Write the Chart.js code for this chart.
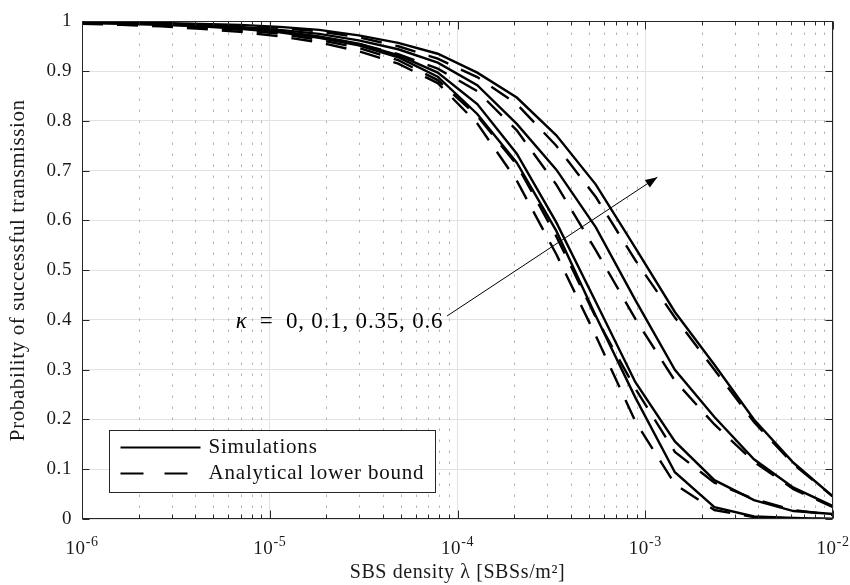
<!DOCTYPE html>
<html>
<head>
<meta charset="utf-8">
<script src="https://cdn.jsdelivr.net/npm/chart.js@4.4.1/dist/chart.umd.min.js"></script>
<style>
  html, body { margin: 0; padding: 0; background: #fff; }
</style>
</head>
<body>
<canvas id="myChart" width="850" height="585"></canvas>
<script>
// SBS density (x, log scale) and success probabilities
const density = [1e-6, 1.624e-6, 2.637e-6, 4.281e-6, 6.952e-6, 1.129e-5, 1.833e-5, 2.976e-5, 4.833e-5, 7.848e-5,
                 1.274e-4, 2.069e-4, 3.360e-4, 5.456e-4, 8.859e-4, 1.438e-3, 2.336e-3, 3.793e-3, 6.158e-3, 1e-2];

const simKappa0   = [0.997, 0.995, 0.993, 0.990, 0.985, 0.978, 0.967, 0.952, 0.928, 0.889, 0.814, 0.716, 0.579, 0.408, 0.244, 0.094, 0.024, 0.005, 0.002, 0.000];
const simKappa01  = [0.997, 0.996, 0.994, 0.991, 0.987, 0.980, 0.970, 0.955, 0.932, 0.897, 0.834, 0.734, 0.596, 0.436, 0.275, 0.156, 0.078, 0.038, 0.016, 0.010];
const simKappa035 = [0.998, 0.997, 0.995, 0.993, 0.989, 0.983, 0.975, 0.962, 0.944, 0.917, 0.872, 0.794, 0.702, 0.586, 0.440, 0.300, 0.205, 0.120, 0.063, 0.026];
const simKappa06  = [0.999, 0.998, 0.997, 0.995, 0.993, 0.989, 0.983, 0.972, 0.957, 0.935, 0.897, 0.847, 0.771, 0.672, 0.545, 0.416, 0.310, 0.200, 0.113, 0.045];

const lbKappa0    = [0.995, 0.993, 0.990, 0.985, 0.979, 0.970, 0.958, 0.940, 0.915, 0.876, 0.795, 0.680, 0.532, 0.368, 0.196, 0.070, 0.018, 0.004, 0.001, 0.000];
const lbKappa01   = [0.996, 0.994, 0.992, 0.988, 0.983, 0.975, 0.963, 0.947, 0.922, 0.882, 0.810, 0.712, 0.568, 0.405, 0.262, 0.135, 0.073, 0.040, 0.018, 0.008];
const lbKappa035  = [0.998, 0.996, 0.994, 0.991, 0.986, 0.979, 0.969, 0.955, 0.934, 0.905, 0.860, 0.781, 0.672, 0.540, 0.402, 0.278, 0.190, 0.115, 0.060, 0.024];
const lbKappa06   = [0.999, 0.998, 0.996, 0.994, 0.991, 0.987, 0.980, 0.968, 0.950, 0.925, 0.888, 0.834, 0.750, 0.647, 0.520, 0.405, 0.300, 0.195, 0.110, 0.045];

// tick labels
const xDecades = [1e-6, 1e-5, 1e-4, 1e-3, 1e-2];
const xExponents = ['-6', '-5', '-4', '-3', '-2'];
const yTicks = [0, 0.1, 0.2, 0.3, 0.4, 0.5, 0.6, 0.7, 0.8, 0.9, 1];

const legendLabels = ['Simulations', 'Analytical lower bound'];
const kappaLabel = ['\u03BA', '\u2002=\u20020, 0.1, 0.35, 0.6'];

const FONT = '"Liberation Serif", "DejaVu Serif", serif';
const DASH = [21, 14];

function isDecade(v) {
  const l = Math.log10(v);
  return Math.abs(l - Math.round(l)) < 1e-6;
}

function pts(ys) {
  return density.map((d, i) => ({ x: d, y: ys[i] }));
}

function curve(ys, dashed) {
  return {
    data: pts(ys),
    borderColor: '#000',
    borderWidth: 2.4,
    borderDash: dashed ? DASH : [],
    pointRadius: 0,
    fill: false,
    tension: 0
  };
}

// minor positions 2..9 x 10^n for dotted grid and small ticks
const minorX = [];
xDecades.slice(0, -1).forEach(d => {
  for (let m = 2; m <= 9; m++) minorX.push(m * d);
});

const paperPlugin = {
  id: 'paperPlugin',
  beforeDraw(chart) {
    // computer-modern is a bit wider than Times
    chart.ctx.letterSpacing = '0.6px';
  },
  beforeDatasetsDraw(chart) {
    const { ctx, chartArea: a, scales: { x } } = chart;
    ctx.save();
    ctx.strokeStyle = '#b4b4b4';
    ctx.lineWidth = 1;
    ctx.setLineDash([2.5, 8.5]);
    minorX.forEach(v => {
      const px = Math.round(x.getPixelForValue(v)) + 0.5;
      ctx.beginPath();
      ctx.moveTo(px, a.bottom);
      ctx.lineTo(px, a.top);
      ctx.stroke();
    });
    ctx.restore();
  },
  afterDatasetsDraw(chart) {
    const { ctx, chartArea: a, scales: { x, y } } = chart;
    ctx.save();
    // box
    ctx.strokeStyle = '#262626';
    ctx.lineWidth = 1;
    ctx.setLineDash([]);
    const L = Math.round(a.left) + 0.5, R = Math.round(a.right) - 0.5;
    const T = Math.round(a.top) + 0.5, B = Math.round(a.bottom) - 0.5;
    ctx.strokeRect(L, T, R - L, B - T);

    // inward ticks
    ctx.beginPath();
    xDecades.forEach(v => {
      const px = Math.round(x.getPixelForValue(v)) + 0.5;
      ctx.moveTo(px, B); ctx.lineTo(px, B - 8);
      ctx.moveTo(px, T); ctx.lineTo(px, T + 8);
    });
    minorX.forEach(v => {
      const px = Math.round(x.getPixelForValue(v)) + 0.5;
      ctx.moveTo(px, B); ctx.lineTo(px, B - 4);
      ctx.moveTo(px, T); ctx.lineTo(px, T + 4);
    });
    yTicks.forEach(v => {
      const py = Math.round(y.getPixelForValue(v)) + 0.5;
      ctx.moveTo(L, py); ctx.lineTo(L + 7, py);
      ctx.moveTo(R, py); ctx.lineTo(R - 7, py);
    });
    ctx.stroke();

    // x tick labels 10^n
    ctx.fillStyle = '#1a1a1a';
    ctx.textBaseline = 'alphabetic';
    xDecades.forEach((v, i) => {
      const px = x.getPixelForValue(v);
      ctx.font = '19px ' + FONT;
      const wBase = ctx.measureText('10').width;
      ctx.font = '14px ' + FONT;
      const wExp = ctx.measureText(xExponents[i]).width;
      const start = px - (wBase + wExp) / 2;
      ctx.font = '19px ' + FONT;
      ctx.textAlign = 'left';
      ctx.fillText('10', start, B + 35);
      ctx.font = '14px ' + FONT;
      ctx.fillText(xExponents[i], start + wBase, B + 27);
    });
    ctx.restore();
  },
  afterDraw(chart) {
    const { ctx, chartArea: a, scales: { x, y } } = chart;
    ctx.save();
    ctx.setLineDash([]);

    // annotation arrow
    const x0 = x.getPixelForValue(8.8e-5), y0 = y.getPixelForValue(0.408);
    const x1 = x.getPixelForValue(1.16e-3), y1 = y.getPixelForValue(0.687);
    ctx.strokeStyle = '#000';
    ctx.fillStyle = '#000';
    ctx.lineWidth = 1;
    ctx.beginPath();
    ctx.moveTo(x0, y0);
    ctx.lineTo(x1, y1);
    ctx.stroke();
    const ang = Math.atan2(y1 - y0, x1 - x0);
    const hl = 12, hw = 4.5;
    ctx.beginPath();
    ctx.moveTo(x1, y1);
    ctx.lineTo(x1 - hl * Math.cos(ang) + hw * Math.sin(ang), y1 - hl * Math.sin(ang) - hw * Math.cos(ang));
    ctx.lineTo(x1 - hl * Math.cos(ang) - hw * Math.sin(ang), y1 - hl * Math.sin(ang) + hw * Math.cos(ang));
    ctx.closePath();
    ctx.fill();

    // kappa label, right-aligned at the arrow tail
    ctx.letterSpacing = '0.8px';
    ctx.textBaseline = 'middle';
    ctx.textAlign = 'left';
    ctx.font = '23px ' + FONT;
    const wRest = ctx.measureText(kappaLabel[1]).width;
    ctx.font = 'italic 23px ' + FONT;
    const wK = ctx.measureText(kappaLabel[0]).width;
    const tx = x.getPixelForValue(8.4e-5) - wRest - wK;
    const ty = y.getPixelForValue(0.396);
    ctx.fillText(kappaLabel[0], tx, ty);
    ctx.font = '23px ' + FONT;
    ctx.fillText(kappaLabel[1], tx + wK, ty);
    ctx.letterSpacing = '0.8px';

    // legend box
    const lx = Math.round(a.left) + 27.5, ly = Math.round(a.bottom) - 88.5;
    const lw = 326, lh = 62;
    ctx.fillStyle = '#fff';
    ctx.fillRect(lx, ly, lw, lh);
    ctx.strokeStyle = '#262626';
    ctx.lineWidth = 1;
    ctx.strokeRect(lx, ly, lw, lh);
    const rows = [ly + 17, ly + 43];
    ctx.strokeStyle = '#000';
    ctx.lineWidth = 2.2;
    rows.forEach((ry, i) => {
      ctx.setLineDash(i === 0 ? [] : [23, 21]);
      ctx.beginPath();
      ctx.moveTo(lx + 11, ry);
      ctx.lineTo(lx + 91, ry);
      ctx.stroke();
      ctx.setLineDash([]);
      ctx.fillStyle = '#111';
      ctx.font = '21px ' + FONT;
      ctx.fillText(legendLabels[i], lx + 99, ry);
    });
    ctx.restore();
  }
};

const ctx = document.getElementById('myChart').getContext('2d');

const myChart = new Chart(ctx, {
  type: 'line',
  data: {
    datasets: [
      curve(simKappa0, false), curve(simKappa01, false), curve(simKappa035, false), curve(simKappa06, false),
      curve(lbKappa0, true), curve(lbKappa01, true), curve(lbKappa035, true), curve(lbKappa06, true)
    ]
  },
  options: {
    responsive: false,
    animation: false,
    devicePixelRatio: 1,
    layout: { padding: { left: 0, right: 17, top: 14, bottom: 0 } },
    plugins: {
      legend: { display: false },
      tooltip: { enabled: false }
    },
    scales: {
      x: {
        type: 'logarithmic',
        min: 1e-6,
        max: 1e-2,
        border: { display: false },
        grid: {
          drawTicks: false,
          color: c => (c.tick && isDecade(c.tick.value)) ? '#e2e2e2' : 'rgba(0,0,0,0)'
        },
        ticks: { display: false },
        title: {
          display: true,
          text: 'SBS density \u03BB [SBSs/m\u00B2]',
          color: '#1a1a1a',
          font: { family: FONT, size: 20 },
          padding: { top: 0, bottom: 0 }
        },
        afterFit: s => { s.height = 66; }
      },
      y: {
        type: 'linear',
        min: 0,
        max: 1,
        border: { display: false },
        grid: { drawTicks: false, color: '#e2e2e2' },
        ticks: {
          stepSize: 0.1,
          padding: 10,
          color: '#1a1a1a',
          font: { family: FONT, size: 19 },
          callback: v => String(Number(v.toFixed(1)))
        },
        title: {
          display: true,
          text: 'Probability of successful transmission',
          color: '#1a1a1a',
          font: { family: FONT, size: 21 },
          padding: { top: 6, bottom: 0 }
        },
        afterFit: s => { s.width = 82; }
      }
    }
  },
  plugins: [paperPlugin]
});
</script>
</body>
</html>
